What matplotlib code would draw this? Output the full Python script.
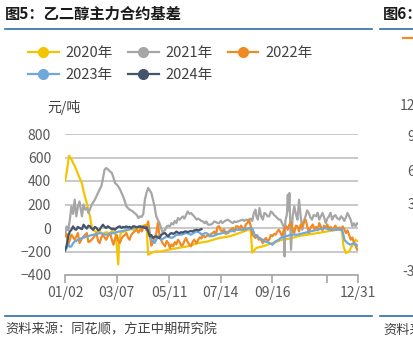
import matplotlib
matplotlib.use('Agg')
import matplotlib.pyplot as plt
from matplotlib.lines import Line2D

plt.rcParams['font.family'] = ['Noto Sans CJK SC', 'DejaVu Sans']

# day of year (0 = 01/01) and basis values, yuan/ton
d2020 = [1, 3, 6, 9, 11, 13, 15, 17, 19, 22, 24, 26, 28, 30, 32, 34, 36, 40, 44, 48,
         52, 56, 60, 64, 67, 68, 70, 74, 78, 82, 86, 90, 94, 98, 102, 104, 106, 108, 112, 120,
         129, 141, 153, 166, 178, 192, 205, 217, 228, 231, 233, 238, 246, 258, 270, 280, 289, 301, 314, 326,
         338, 344, 346, 349, 353, 355, 359, 361, 363]
v2020 = [400, 470, 615, 585, 553, 530, 496, 460, 428, 380, 312, 260, 213, 150, 99, 14, -20, -35, -30, -50,
         -35, -45, -25, -60, -310, -120, -40, -30, -20, -10, -15, 0, 10, 20, 30, -227, -220, -213, -200, -200,
         -185, -170, -156, -128, -114, -85, -71, -43, -15, -10, -210, -170, -156, -128, -100, -90, -71, -57, -43, -29,
         -15, -15, -156, -213, -200, -170, -128, -100, -110]

d2021 = [1, 3, 5, 7, 9, 11, 13, 15, 17, 19, 21, 22, 24, 26, 28, 30, 32, 34, 36, 38,
         40, 42, 44, 46, 48, 50, 52, 54, 57, 59, 61, 63, 65, 67, 69, 71, 73, 75, 77, 79,
         81, 83, 85, 87, 90, 92, 94, 96, 98, 100, 102, 104, 106, 108, 110, 112, 114, 116, 118, 120,
         122, 125, 127, 129, 131, 133, 135, 137, 139, 141, 143, 145, 147, 149, 151, 153, 155, 157, 159, 161,
         164, 166, 168, 170, 172, 174, 176, 178, 180, 182, 184, 186, 188, 190, 192, 194, 196, 199, 203, 205,
         207, 209, 211, 213, 215, 217, 219, 221, 223, 225, 227, 229, 231, 233, 235, 237, 238, 240, 242, 244,
         246, 248, 250, 252, 254, 256, 258, 260, 262, 264, 266, 268, 270, 272, 273, 274, 276, 277, 278, 279,
         280, 281, 283, 285, 287, 289, 290, 291, 293, 295, 297, 299, 301, 303, 305, 307, 309, 312, 314, 316,
         318, 320, 322, 324, 326, 328, 330, 332, 334, 336, 338, 341, 343, 345, 347, 349, 351, 353, 355, 357,
         359, 361, 363]
v2021 = [-60, 14, -20, 71, 184, 120, 241, 99, 180, 226, 140, 99, 200, 156, 170, 128, 160, 198, 220, 241,
         270, 298, 330, 354, 420, 496, 511, 500, 480, 468, 430, 383, 370, 354, 330, 300, 269, 230, 184, 170,
         156, 150, 140, 128, 110, 85, 99, 95, 120, 241, 300, 340, 320, 298, 240, 184, 99, 70, 42, 0,
         -40, -15, 14, 20, 14, 42, 30, 60, 42, 85, 70, 85, 99, 80, 110, 141, 120, 128, 113, 99,
         71, 80, 71, 60, 56, 40, 56, 30, 28, 30, 40, 56, 50, 42, 42, 60, 42, 60, 71, 60,
         50, 42, 56, 50, 56, 60, 65, 71, 60, 71, 65, 71, 80, 60, 128, 156, 100, 71, 170, 100,
         71, 128, 120, 99, 99, 141, 130, 110, 99, 85, 71, 71, 40, 14, -242, 60, 120, 283, 150, 298,
         60, -185, 100, 184, 120, 71, 160, 241, 100, -15, 60, 99, 150, 128, 90, 71, 110, 99, 130, 71,
         100, 128, 90, 42, 80, 99, 130, 71, 99, 110, 85, 71, 100, 85, 60, 90, 128, 100, 70, 14,
         40, 14, 40]

d2022 = [1, 3, 5, 9, 13, 17, 19, 22, 24, 28, 30, 32, 36, 40, 42, 44, 46, 48, 52, 54,
         57, 59, 61, 63, 65, 67, 69, 71, 73, 75, 77, 79, 81, 83, 85, 87, 90, 92, 94, 96,
         98, 100, 102, 104, 106, 108, 110, 112, 114, 116, 118, 120, 122, 125, 127, 129, 131, 133, 135, 137,
         139, 141, 143, 145, 147, 149, 151, 153, 155, 157, 159, 161, 164, 166, 168, 170, 172, 174, 176, 178,
         180, 182, 184, 186, 188, 190, 192, 194, 196, 198, 200, 203, 205, 207, 209, 211, 213, 215, 217, 219,
         221, 223, 225, 227, 229, 231, 233, 235, 237, 239, 241, 243, 246, 248, 250, 252, 254, 256, 258, 260,
         262, 264, 266, 268, 270, 272, 275, 277, 279, 281, 283, 285, 287, 289, 291, 293, 295, 297, 299, 301,
         303, 305, 308, 310, 312, 314, 316, 318, 320, 322, 324, 326, 328, 330, 332, 334, 336, 338, 341, 343,
         345, 347, 349, 351, 353, 355, 357, 359, 361, 363]
v2022 = [-71, -50, -142, -57, -100, -43, -128, -90, -71, -43, -120, -114, -85, -43, -110, -128, -80, -60, -100, -70,
         -43, -100, -142, -90, -57, -110, -128, -90, -71, -60, -43, -80, -100, -60, -43, -30, -15, -40, -10, -30,
         0, 20, -20, 56, -40, -150, -120, -80, -50, 42, -60, -100, -130, -156, -110, -128, -170, -140, -156, -120,
         -140, -100, -120, -150, -142, -110, -85, -120, -140, -156, -120, -100, -130, -100, -80, -90, -57, -80, -71, -60,
         -71, -50, -43, -30, -60, 10, 14, -20, -29, -10, -50, -43, -20, -10, 0, -30, 14, 14, -10, 20,
         0, -20, 30, 42, 71, 20, -57, -70, -85, -60, -100, -90, -128, -100, -85, -110, -100, -60, -71, -50,
         -57, -30, -15, -40, -71, -20, 14, -15, 30, 42, -10, -43, 20, 14, -30, 30, 10, 50, 71, 20,
         -43, 0, 30, -10, 10, -20, 42, 10, -20, 20, 0, 30, -15, 10, -20, 0, 20, -10, 5, -20,
         14, -10, -43, -20, -60, -100, -80, -128, -150, -185]

d2023 = [1, 3, 5, 7, 9, 11, 13, 15, 17, 19, 22, 25, 28, 32, 36, 40, 44, 48, 52, 56,
         61, 65, 69, 73, 77, 81, 85, 89, 93, 97, 101, 104, 106, 108, 110, 112, 114, 116, 118, 120,
         124, 127, 131, 133, 137, 139, 145, 151, 155, 157, 161, 164, 168, 170, 174, 176, 180, 182, 186, 188,
         192, 196, 200, 205, 210, 213, 218, 221, 225, 229, 233, 236, 240, 242, 246, 248, 252, 254, 258, 262,
         266, 268, 272, 275, 281, 289, 297, 305, 314, 322, 330, 338, 344, 346, 347, 349, 351, 355, 359, 362,
         363]
v2023 = [-200, -170, -142, -160, -156, -130, -114, -110, -100, -95, -85, -80, -71, -65, -57, -55, -43, -50, -57, -50,
         -43, -35, -29, -25, -15, -10, 0, 5, 14, 10, 5, 0, -60, -100, -115, -128, -100, -71, -85, -100,
         -85, -71, -80, -85, -70, -57, -57, -43, -50, -57, -40, -29, -40, -57, -45, -43, -60, -71, -65, -57,
         -50, -43, -35, -29, -25, -15, -15, -15, -10, 0, -5, -57, -75, -85, -100, -114, -120, -128, -142, -114,
         -100, -85, -75, -71, -57, -57, -43, -29, -15, 0, -15, -15, -10, -60, -100, -114, -130, -142, -128, -140,
         -150]

d2024 = [1, 3, 5, 7, 9, 11, 13, 15, 17, 19, 22, 24, 26, 28, 30, 32, 34, 36, 38, 40,
         42, 44, 46, 48, 50, 52, 54, 57, 59, 61, 63, 65, 67, 69, 71, 73, 75, 77, 79, 81,
         83, 85, 87, 90, 92, 94, 96, 98, 100, 102, 104, 106, 108, 110, 112, 114, 116, 118, 120, 122,
         125, 127, 129, 131, 133, 135, 137, 139, 141, 143, 145, 147, 149, 151, 153, 155, 157, 159, 161, 164,
         166, 168, 170]
v2024 = [-185, -150, -71, -30, -15, 14, -10, -15, 10, 0, -10, 28, 10, -5, 20, 14, -5, -15, 10, 0,
         -20, -15, 10, 28, 10, 0, 15, 0, -10, -5, -15, 0, 10, 14, 0, 10, 5, 14, 5, 10,
         0, 14, 14, 5, 10, 14, 5, 10, 0, 5, -29, -71, -60, -85, -75, -71, -80, -85, -60, -50,
         -43, -60, -71, -50, -43, -50, -43, -30, -40, -43, -35, -40, -30, -29, -35, -30, -25, -30, -20, -15,
         -20, -15, -10]

years = ['2020年', '2021年', '2022年', '2023年', '2024年']
colors = ['#f5c400', '#a6a6a6', '#f08a24', '#6fa8dc', '#44546a']
series = [(d2020, v2020), (d2021, v2021), (d2022, v2022), (d2023, v2023), (d2024, v2024)]

tick_days = [1, 65, 130, 194, 258, 325, 364]
tick_labels = ['01/02', '03/07', '05/11', '07/14', '09/16', '', '12/31']

fig = plt.figure(figsize=(4.13, 3.51), dpi=100)
ax = fig.add_axes([65 / 413, 1 - 275 / 351, 293 / 413, 141 / 351])

for (d, v), c in zip(series, colors):
    ax.plot(d, v, color=c, lw=1.6, solid_joinstyle='round')

ax.set_xlim(1, 364)
ax.set_ylim(-400, 800)
ax.set_yticks(range(-400, 801, 200))
ax.grid(axis='y', color='#c0c0c0', lw=1.2)
ax.set_axisbelow(True)
for s in ['top', 'right', 'left']:
    ax.spines[s].set_visible(False)
ax.spines['bottom'].set_color('#a6a6a6')
ax.spines['bottom'].set_linewidth(1.2)
ax.set_xticks(tick_days)
ax.set_xticklabels(tick_labels)
ax.tick_params(axis='x', length=6, width=1.2, color='#a6a6a6', labelsize=10, labelcolor='#595959', pad=2)
ax.tick_params(axis='y', length=0, labelsize=10, labelcolor='#595959', pad=10)

ax.text(-0.061, 1.19, '元/吨', transform=ax.transAxes, fontsize=10, color='#404040', va='center')

# legend fills column by column -> order so rows read 2020 2021 2022 / 2023 2024
order = [0, 3, 1, 4, 2]
handles = [Line2D([], [], color=colors[i], lw=1.6, marker='o', markersize=7) for i in order]
fig.legend(handles, [years[i] for i in order], loc='upper left', bbox_to_anchor=(28 / 413, 1 - 46 / 351), ncol=3,
           frameon=False, fontsize=10.5, handlelength=2.1, handletextpad=0.5, columnspacing=1.0,
           labelspacing=0.55, borderpad=0, borderaxespad=0, labelcolor='#404040')

# header / footer
fig.text(5 / 413, 1 - 14 / 351, '图5：乙二醇主力合约基差', fontsize=11, fontweight='bold', va='center', color='#1a1a1a')
fig.text(383 / 413, 1 - 14 / 351, '图6：', fontsize=11, fontweight='bold', va='center', color='#1a1a1a')
fig.add_artist(Line2D([5 / 413, 372 / 413], [1 - 28.5 / 351] * 2, color='#2e6ea6', lw=1.2))
fig.add_artist(Line2D([380 / 413, 1], [1 - 28.5 / 351] * 2, color='#2e6ea6', lw=1.2))
fig.add_artist(Line2D([5 / 413, 372 / 413], [1 - 316 / 351] * 2, color='#2e6ea6', lw=1.2))
fig.add_artist(Line2D([380 / 413, 1], [1 - 316 / 351] * 2, color='#2e6ea6', lw=1.2))
fig.text(5 / 413, 1 - 330 / 351, '资料来源：同花顺，方正中期研究院', fontsize=9.5, style='italic', va='center', color='#404040')
fig.text(383 / 413, 1 - 330 / 351, '资料来源', fontsize=9.5, style='italic', va='center', color='#404040')

# clipped neighbour chart
for lab, y in [('12', 106), ('9', 137), ('6', 172), ('3', 205), ('-3', 272)]:
    fig.text(1 + 2 / 413, 1 - y / 351, lab, fontsize=10, color='#595959', ha='right', va='center')
fig.add_artist(Line2D([403 / 413, 1], [1 - 38 / 351] * 2, color='#f08a24', lw=1.6))

fig.savefig('out.png', dpi=100)
